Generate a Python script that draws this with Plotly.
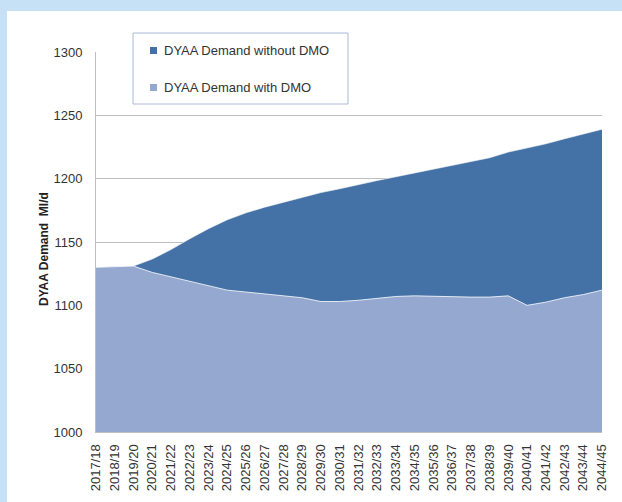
import plotly.graph_objects as go

years = ["2017/18", "2018/19", "2019/20", "2020/21", "2021/22", "2022/23", "2023/24",
         "2024/25", "2025/26", "2026/27", "2027/28", "2028/29", "2029/30", "2030/31",
         "2031/32", "2032/33", "2033/34", "2034/35", "2035/36", "2036/37", "2037/38",
         "2038/39", "2039/40", "2040/41", "2041/42", "2042/43", "2043/44", "2044/45"]

without_dmo = [1130, 1130.5, 1131, 1136.5, 1144, 1152.5, 1160.5, 1167.5, 1173, 1177.5,
               1181.5, 1185.5, 1189, 1192, 1195.5, 1198.5, 1201.5, 1204.5, 1207.5, 1210.5,
               1213.5, 1216.5, 1221, 1224, 1227.5, 1231.5, 1235, 1239]

with_dmo = [1130, 1130.5, 1131, 1126, 1122.5, 1119, 1115.5, 1112, 1110.5, 1109,
            1107, 1106, 1103, 1103, 1104, 1105.5, 1107, 1107.5, 1107, 1106.5,
            1106.5, 1106.5, 1107.5, 1100, 1102.5, 1106, 1108.5, 1112]

y_ticks = [1000, 1050, 1100, 1150, 1200, 1250, 1300]

series_names = ["DYAA Demand without DMO", "DYAA Demand with DMO"]
y_title = "DYAA Demand  Ml/d"
dark = "rgb(68,114,167)"
light = "rgb(149,168,207)"

W, H = 622, 502
L, R, T, B = 96, 20, 52, 70
PW, PH = W - L - R, H - T - B


def px_x(x):
    return (x - L) / PW


def px_y(y):
    return (H - B - y) / PH


FONT = "Liberation Sans, Arial, sans-serif"

fig = go.Figure()
fig.add_trace(go.Scatter(x=years, y=without_dmo, mode="lines", fill="tozeroy",
                         fillcolor=dark, line=dict(color="rgba(255,255,255,0.6)", width=1),
                         name=series_names[0], showlegend=False))
fig.add_trace(go.Scatter(x=years, y=with_dmo, mode="lines", fill="tozeroy",
                         fillcolor=light, line=dict(color="rgba(255,255,255,0.8)", width=1),
                         name=series_names[1], showlegend=False))

shapes = [
    # white chart panel
    dict(type="rect", xref="paper", yref="paper", layer="below",
         x0=px_x(7), x1=px_x(W + 10), y0=px_y(H + 10), y1=px_y(11),
         fillcolor="white", line=dict(width=0)),
    # legend box
    dict(type="rect", xref="paper", yref="paper", layer="above",
         x0=px_x(133), x1=px_x(348), y0=px_y(104), y1=px_y(33),
         fillcolor="white", line=dict(color="#A9BAD6", width=1)),
    dict(type="rect", xref="paper", yref="paper", layer="above",
         x0=px_x(150), x1=px_x(157), y0=px_y(54), y1=px_y(47),
         fillcolor=dark, line=dict(width=0)),
    dict(type="rect", xref="paper", yref="paper", layer="above",
         x0=px_x(150), x1=px_x(157), y0=px_y(91), y1=px_y(84),
         fillcolor=light, line=dict(width=0)),
]

annotations = [
    dict(text=series_names[0], xref="paper", yref="paper", x=px_x(162), y=px_y(50.5),
         xanchor="left", yanchor="middle", showarrow=False,
         font=dict(family=FONT, size=13, color="#333")),
    dict(text=series_names[1], xref="paper", yref="paper", x=px_x(162), y=px_y(87.5),
         xanchor="left", yanchor="middle", showarrow=False,
         font=dict(family=FONT, size=13, color="#333")),
    dict(text="<b>" + y_title + "</b>", xref="paper", yref="paper", x=px_x(44), y=px_y(249),
         xanchor="center", yanchor="middle", textangle=-90, showarrow=False,
         font=dict(family=FONT, size=12, color="#222")),
]

fig.update_layout(
    width=W, height=H,
    margin=dict(l=L, r=R, t=T, b=B),
    paper_bgcolor="#C6E0F5",
    plot_bgcolor="white",
    font=dict(family=FONT, size=13, color="#333"),
    showlegend=False,
    shapes=shapes,
    annotations=annotations,
    xaxis=dict(type="category", range=[0, len(years) - 1], tickangle=-90,
               showgrid=False, showline=True, linecolor="#BFBFBF", linewidth=1,
               ticks="outside", ticklen=6, tickcolor="rgba(0,0,0,0)",
               tickfont=dict(size=13, color="#333"), automargin=False),
    yaxis=dict(range=[1000, 1300], tickvals=y_ticks, showgrid=True, gridcolor="#BFBFBF",
               gridwidth=1, showline=True, linecolor="#BFBFBF", linewidth=1,
               ticks="outside", ticklen=10, tickcolor="rgba(0,0,0,0)",
               tickfont=dict(size=13, color="#333"), zeroline=False, automargin=False),
)

fig.write_html(
    "out.html",
    config={"displayModeBar": False},
    post_script="document.body.style.margin='0';document.body.style.overflow='hidden';",
)
